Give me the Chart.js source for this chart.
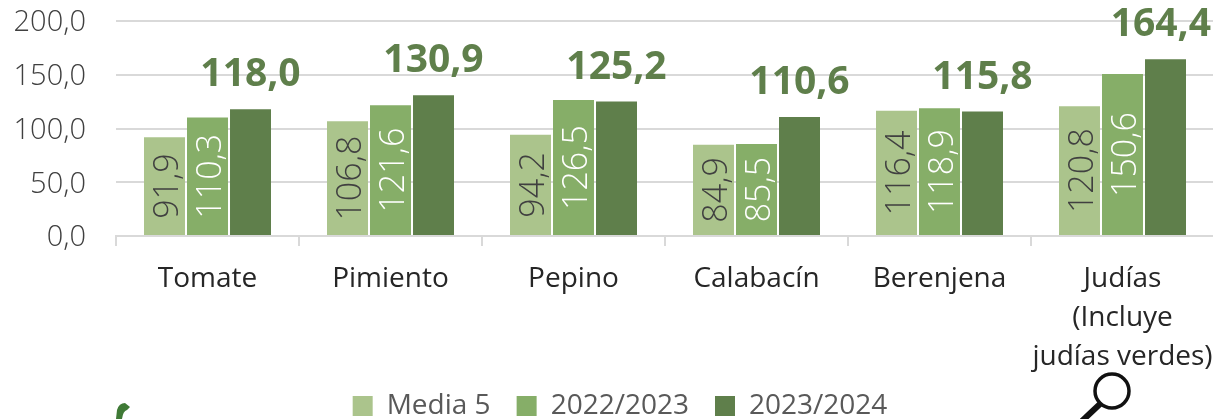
<!DOCTYPE html>
<html><head><meta charset="utf-8">
<style>html,body{margin:0;padding:0;background:#fff;overflow:hidden;width:1213px;height:419px}
#w{position:relative;width:1213px;height:419px;overflow:hidden}
canvas{position:absolute;left:0;top:0}
svg{position:absolute;left:0;top:0}</style>
<script src="https://cdn.jsdelivr.net/npm/chart.js@4/dist/chart.umd.min.js"></script>
</head><body><div id="w"><canvas id="c" width="1215" height="450"></canvas>
<svg width="1213" height="419">
<path d="M116 419 L117 410 Q119 403 125 403 L130 407 L127 410 Q123 411 122 419 Z" fill="#3f7a36"/>
<circle cx="1112" cy="391" r="17" fill="none" stroke="#111" stroke-width="3.5"/>
<path d="M1100 404 L1082 421" stroke="#111" stroke-width="6" fill="none"/>
</svg></div>
<script>
const categories=['Tomate','Pimiento','Pepino','Calabacín','Berenjena',['Judías','(Incluye','judías verdes)']];
const media5=[91.9,106.8,94.2,84.9,116.4,120.8];
const s2223=[110.3,121.6,126.5,85.5,118.9,150.6];
const s2324=[118.0,130.9,125.2,110.6,115.8,164.4];
const yTicks=[0,50,100,150,200];
const fmt=v=>v.toFixed(1).replace('.',',');
const F='"Open Sans"';
const labels={id:'labels',
 afterLayout(ch){const l=ch.legend;l.left+=13;l.right+=13;l.top=366;l.bottom=430;},
 afterDatasetsDraw(ch){
 const x=ch.ctx;
 ch.data.datasets.forEach((d,i)=>{
  ch.getDatasetMeta(i).data.forEach((el,j)=>{
   x.save();
   const t=fmt(d.data[j]);
   if(i<2){
    x.translate(el.x,(el.base+el.y)/2);x.rotate(-Math.PI/2);
    x.textAlign='center';x.textBaseline='middle';
    x.font='300 34px '+F;x.fillStyle=i==0?'#404040':'#ffffff';
    x.fillText(t,0,4);
   }else{
    x.textAlign='center';x.textBaseline='middle';
    x.font='700 39px '+F;x.fillStyle='#5f7f4b';
    const w=x.measureText(t).width;
    x.fillText(t,Math.min(el.x,1211-w/2),el.y-34);
   }
   x.restore();
  });
 });
}};
new Chart(document.getElementById('c'),{type:'bar',plugins:[labels],
 data:{labels:categories,datasets:[
  {label:'Media 5',data:media5,backgroundColor:'#abc48c'},
  {label:'2022/2023',data:s2223,backgroundColor:'#86ae68'},
  {label:'2023/2024',data:s2324,backgroundColor:'#5f7f4b'}]},
 options:{responsive:false,animation:false,devicePixelRatio:1,
  layout:{padding:{left:0,top:21,right:1,bottom:0}},
  plugins:{tooltip:{enabled:false},
   legend:{position:'bottom',labels:{font:{family:F,size:28,weight:'400'},color:'#595959',boxWidth:20,boxHeight:20,padding:26}}},
  datasets:{bar:{categoryPercentage:0.705,barPercentage:0.953}},
  scales:{
   x:{grid:{display:true,drawOnChartArea:false,color:'#d9d9d9',lineWidth:2,tickLength:10},
      border:{color:'#d9d9d9',width:2},
      ticks:{font:{family:F,size:28,weight:'400',lineHeight:1.39},color:'#262626',maxRotation:0,autoSkip:false,padding:14},
      afterFit(s){s.height=150;s.paddingLeft=0;s.paddingRight=0}},
   y:{min:0,max:200,grid:{color:'#d9d9d9',lineWidth:2,drawTicks:false},border:{display:false},
      afterBuildTicks(s){s.ticks=yTicks.map(v=>({value:v}))},
      ticks:{font:{family:F,size:29,weight:'300'},color:'#404040',padding:30,labelOffset:2,callback:v=>fmt(v)},
      afterFit(s){s.width=116;s.paddingTop=0;s.paddingBottom=0}}
  }}});
</script></body></html>
